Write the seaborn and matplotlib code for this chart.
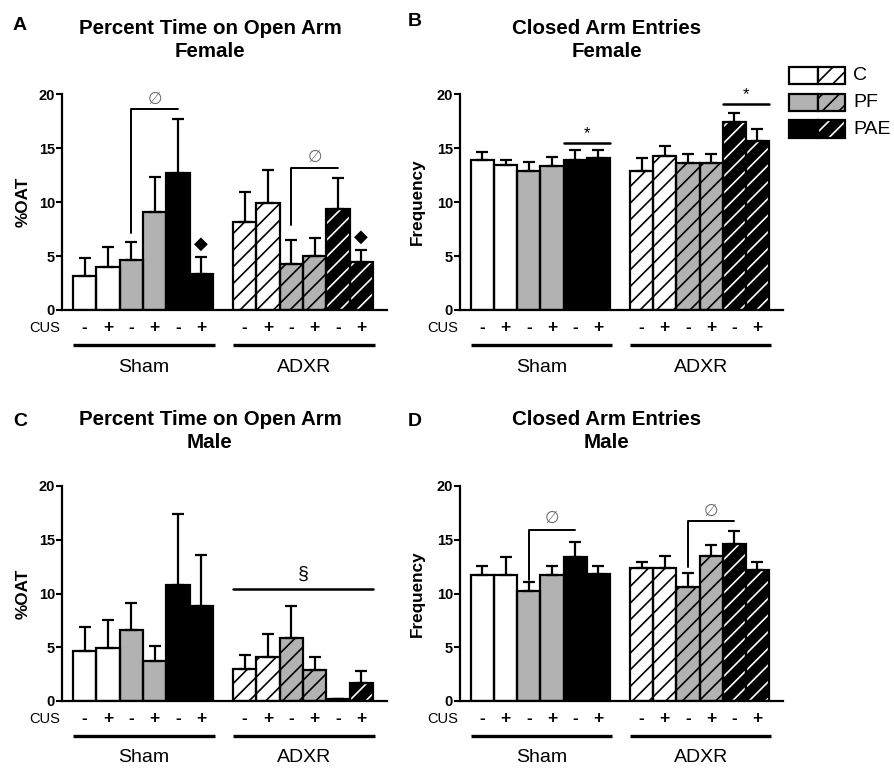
import numpy as np
import pandas as pd
import matplotlib.pyplot as plt
import seaborn as sns
from matplotlib.patches import Rectangle
from matplotlib.transforms import blended_transform_factory

surgery = ["Sham"] * 6 + ["ADXR"] * 6
diet = ["C", "C", "PF", "PF", "PAE", "PAE"] * 2
cus = ["-", "+"] * 6

oat_female = [3.15, 4.0, 4.6, 9.05, 12.65, 3.35, 8.15, 9.9, 4.3, 5.0, 9.35, 4.4]
oat_female_sem = [1.65, 1.8, 1.65, 3.25, 5.05, 1.55, 2.75, 3.1, 2.2, 1.65, 2.85, 1.15]

cae_female = [13.85, 13.4, 12.85, 13.35, 13.9, 14.05, 12.85, 14.3, 13.65, 13.65, 17.4, 15.65]
cae_female_sem = [0.75, 0.5, 0.85, 0.85, 0.9, 0.75, 1.25, 0.85, 0.8, 0.8, 0.8, 1.1]

oat_male = [4.65, 4.95, 6.65, 3.75, 10.8, 8.85, 3.0, 4.1, 5.85, 2.85, 0.2, 1.65]
oat_male_sem = [2.25, 2.6, 2.45, 1.4, 6.6, 4.75, 1.25, 2.1, 3.0, 1.25, 0.0, 1.1]

cae_male = [11.75, 11.75, 10.25, 11.75, 13.4, 11.8, 12.35, 12.35, 10.65, 13.5, 14.6, 12.2]
cae_male_sem = [0.8, 1.65, 0.8, 0.85, 1.4, 0.8, 0.6, 1.15, 1.25, 1.05, 1.2, 0.7]

face = {"C": "white", "PF": "#b2b2b2", "PAE": "black"}
gap = 0.86
pos = np.arange(12) + np.where(np.array(surgery) == "ADXR", gap, 0.0)

sns.set_style("ticks")
plt.rcParams["font.family"] = ["Liberation Sans", "DejaVu Sans"]
plt.rcParams["hatch.linewidth"] = 1.2
for key in ["text.color", "axes.labelcolor", "xtick.color", "ytick.color", "axes.edgecolor"]:
    plt.rcParams[key] = "black"

W, H = 895, 768
fig = plt.figure(figsize=(W / 100, H / 100), dpi=100)


def px_axes(x0, x1, ytop, ybot):
    return fig.add_axes([x0 / W, 1 - ybot / H, (x1 - x0) / W, (ybot - ytop) / H])


def draw_panel(ax, means, sems, ylabel, label_x):
    df = pd.DataFrame({"pos": pos, "value": means})
    sns.barplot(data=df, x="pos", y="value", native_scale=True, width=1.0,
                errorbar=None, color="white", ax=ax)
    for i, bar in enumerate(ax.patches):
        hatched = surgery[i] == "ADXR"
        bar.set_facecolor(face[diet[i]])
        bar.set_edgecolor("white" if diet[i] == "PAE" else "black")
        bar.set_linewidth(0)
        if hatched:
            bar.set_hatch("//")
        ax.add_patch(Rectangle((bar.get_x(), 0), bar.get_width(), bar.get_height(),
                               fill=False, edgecolor="black", linewidth=1.6, zorder=3))
    ax.errorbar(pos, means, yerr=[np.zeros(len(sems)), sems], fmt="none",
                ecolor="black", elinewidth=1.6, capsize=4.5, capthick=1.6, zorder=1)

    ax.set_xlim(pos[0] - 0.97, pos[-1] + 1.1)
    ax.set_ylim(0, 20)
    ax.set_yticks([0, 5, 10, 15, 20])
    ax.set_xticks([])
    ax.set_xlabel("")
    ax.set_ylabel(ylabel, fontsize=12.3, fontweight="bold")
    ax.yaxis.set_label_coords(label_x, 0.5)
    for lab in ax.get_yticklabels():
        lab.set_fontweight("bold")
    ax.tick_params(axis="y", labelsize=10.5, length=4, width=1.5, pad=1)
    sns.despine(ax=ax)
    for s in ["left", "bottom"]:
        ax.spines[s].set_linewidth(1.6)

    tr = blended_transform_factory(ax.transData, ax.transAxes)
    ax.text(-0.006, -0.083, "CUS", transform=ax.transAxes, ha="right", va="center", fontsize=10.5)
    for x, s in zip(pos, cus):
        ax.text(x, -0.083, s, transform=tr, ha="center", va="center", fontsize=12.5, fontweight="bold")
    for g in ["Sham", "ADXR"]:
        idx = [i for i, s in enumerate(surgery) if s == g]
        x0, x1 = pos[idx[0]] - 0.5, pos[idx[-1]] + 0.6
        ax.plot([x0, x1], [-0.162, -0.162], transform=tr, color="black", lw=2.4,
                clip_on=False, solid_capstyle="butt")
        ax.text((x0 + x1) / 2, -0.264, g, transform=tr, ha="center", va="center", fontsize=14)


def phi_bracket(ax, i, j, low, high, sym_y):
    ax.plot([pos[i], pos[i], pos[j]], [low, high, high], color="black", lw=1.4, clip_on=False)
    ax.text((pos[i] + pos[j]) / 2, sym_y, "\u2205", ha="center", va="center",
            fontsize=12, color="#6a6a6a", family=["DejaVu Sans"])


def star_line(ax, i, j, y, sym_y, sym, size, lw):
    x0, x1 = pos[i] - 0.5, pos[j] + 0.5
    ax.plot([x0, x1], [y, y], color="black", lw=lw, clip_on=False)
    ax.text((x0 + x1) / 2, sym_y, sym, ha="center", va="center", fontsize=size)


# panel A
axA = px_axes(62, 387, 94, 310)
draw_panel(axA, oat_female, oat_female_sem, "%OAT", -0.098)
phi_bracket(axA, 2, 4, 7.1, 18.65, 19.55)
phi_bracket(axA, 8, 10, 7.9, 13.15, 14.2)
for i, y in [(5, 6.1), (11, 6.75)]:
    axA.text(pos[i], y, "\u25c6", ha="center", va="center", fontsize=13, family=["DejaVu Sans"])

# panel B
axB = px_axes(460, 783, 94, 310)
draw_panel(axB, cae_female, cae_female_sem, "Frequency", -0.108)
star_line(axB, 4, 5, 15.5, 16.3, "*", 12, 1.8)
star_line(axB, 10, 11, 19.05, 19.9, "*", 12, 1.8)

# panel C
axC = px_axes(62, 387, 486, 701)
draw_panel(axC, oat_male, oat_male_sem, "%OAT", -0.098)
star_line(axC, 6, 11, 10.4, 11.8, "\u00a7", 14, 1.8)

# panel D
axD = px_axes(460, 783, 486, 701)
draw_panel(axD, cae_male, cae_male_sem, "Frequency", -0.108)
phi_bracket(axD, 2, 4, 11.3, 15.9, 17.05)
phi_bracket(axD, 8, 10, 12.45, 16.75, 17.7)

# titles and panel letters
titles = [("A", 20, 25, 210, 40, "Percent Time on Open Arm\nFemale"),
          ("B", 415, 21, 607, 40, "Closed Arm Entries\nFemale"),
          ("C", 20, 422, 210, 431, "Percent Time on Open Arm\nMale"),
          ("D", 415, 422, 607, 431, "Closed Arm Entries\nMale")]
for letter, lx, ly, tx, ty, title in titles:
    fig.text(lx / W, 1 - ly / H, letter, ha="center", va="center", fontsize=14, fontweight="bold")
    fig.text(tx / W, 1 - ty / H, title, ha="center", va="center", fontsize=14.8,
             fontweight="bold", linespacing=1.25, multialignment="center")

# legend
leg_labels = ["C", "PF", "PAE"]
for k, lab in enumerate(leg_labels):
    yc = 75.5 + k * 26.8
    y0 = 1 - (yc + 8.75) / H
    hgt = 17.5 / H
    fig.add_artist(Rectangle((789 / W, y0), 29 / W, hgt, transform=fig.transFigure,
                             facecolor=face[lab], edgecolor="black", linewidth=1.6))
    fig.add_artist(Rectangle((818 / W, y0), 27 / W, hgt, transform=fig.transFigure,
                             facecolor=face[lab], edgecolor="white" if lab == "PAE" else "black",
                             linewidth=0, hatch="//"))
    fig.add_artist(Rectangle((818 / W, y0), 27 / W, hgt, transform=fig.transFigure,
                             fill=False, edgecolor="black", linewidth=1.6))
    fig.text(853 / W, 1 - yc / H, lab, ha="left", va="center", fontsize=14)

fig.savefig("out.png", dpi=100)
